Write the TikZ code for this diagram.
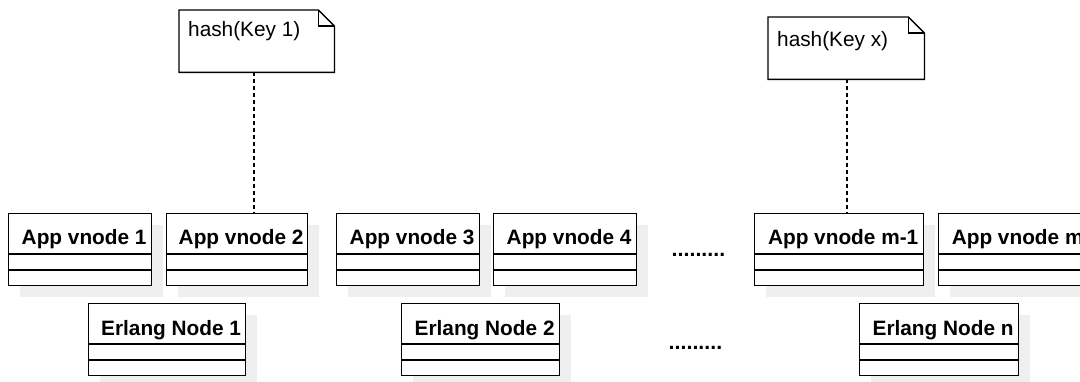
\documentclass[tikz,border=0pt]{standalone}
\usepackage{fontspec}
\setmainfont{Liberation Sans}
\definecolor{shadowc}{HTML}{EFEFEF}
\tikzset{
  boxline/.style={line width=1.3pt, draw=black},
  classbox/.style={boxline, fill=white, inner sep=0pt, anchor=north west, rectangle},
  headtext/.style={font=\fontsize{20.8}{25}\selectfont\bfseries, inner sep=0pt, anchor=base},
  notetext/.style={font=\fontsize{20.8}{25}\selectfont, inner sep=0pt, anchor=base west},
  dotstext/.style={font=\fontsize{21.4}{25}\selectfont\bfseries, inner sep=0pt, anchor=base west},
  conn/.style={line width=1.3pt, dash pattern=on 3.5pt off 3.5pt},
}
% #1 name, #2 x1, #3 y1, #4 x2, #5 y2, #6 text
\newcommand\umlclass[6]{%
  \fill[shadowc] (#2+12,#3+12) rectangle (#4+12,#5+12);
  \node[classbox, minimum width={(#4-#2)*1pt}, minimum height={(#5-#3)*1pt}] (#1) at (#2,#3) {};
  \draw[boxline] ([yshift=-41pt]#1.north west) -- ([yshift=-41pt]#1.north east);
  \draw[boxline] ([yshift=-57pt]#1.north west) -- ([yshift=-57pt]#1.north east);
  \node[headtext] (#1t) at ([xshift=4pt,yshift=-32pt]#1.north) {#6};
}
% #1 name, #2 x1, #3 y1, #4 x2, #5 y2
\newcommand\umlnote[5]{%
  \node[inner sep=0pt, anchor=north west, minimum width={(#4-#2)*1pt}, minimum height={(#5-#3)*1pt}] (#1) at (#2,#3) {};
  \draw[boxline, fill=white, line join=miter] (#1.north west) -- ([xshift=-16pt]#1.north east) -- ([yshift=-16pt]#1.north east) -- (#1.south east) -- (#1.south west) -- cycle;
  \draw[boxline, line join=miter] ([xshift=-16pt]#1.north east) -- ([xshift=-16pt,yshift=-16pt]#1.north east) -- ([yshift=-16pt]#1.north east);
}
\begin{document}
\begin{tikzpicture}[x=1pt,y=-1pt]
\useasboundingbox (0,0) rectangle (1080,382);
\fill[white] (0,0) rectangle (1080,382);
\begin{scope}
\clip (0,0) rectangle (1080,382);
\umlclass{a1}{8}{213}{151}{285}{App vnode 1}
\umlclass{a2}{166}{213}{307}{285}{App vnode 2}
\umlclass{a3}{336}{213}{479}{285}{App vnode 3}
\umlclass{a4}{493}{213}{636}{285}{App vnode 4}
\umlclass{am1}{754}{213}{923}{285}{App vnode m-1}
\umlclass{am}{938}{213}{1088}{285}{App vnode m}
\umlclass{e1}{88}{303}{245}{375}{Erlang Node 1}
\umlclass{e2}{401}{303}{559}{375}{Erlang Node 2}
\umlclass{en}{859}{303}{1018}{375}{Erlang Node n}

\umlnote{n1}{179}{10}{334}{72}
\node[notetext] (n1t) at (188,37) {hash(Key 1)};
\umlnote{n2}{768}{17}{924}{79}
\node[notetext] (n2t) at (777,47) {hash(Key x)};

\coordinate (k1) at (254,0);
\coordinate (k2) at (847,0);
\draw[conn] (n1.south -| k1) -- (a2.north -| k1);
\draw[conn] (n2.south -| k2) -- (am1.north -| k2);

\node[dotstext] (d1) at (671.5,256.5) {.........};
\node[dotstext] (d2) at (668.5,349.5) {.........};
\end{scope}
\end{tikzpicture}
\end{document}
